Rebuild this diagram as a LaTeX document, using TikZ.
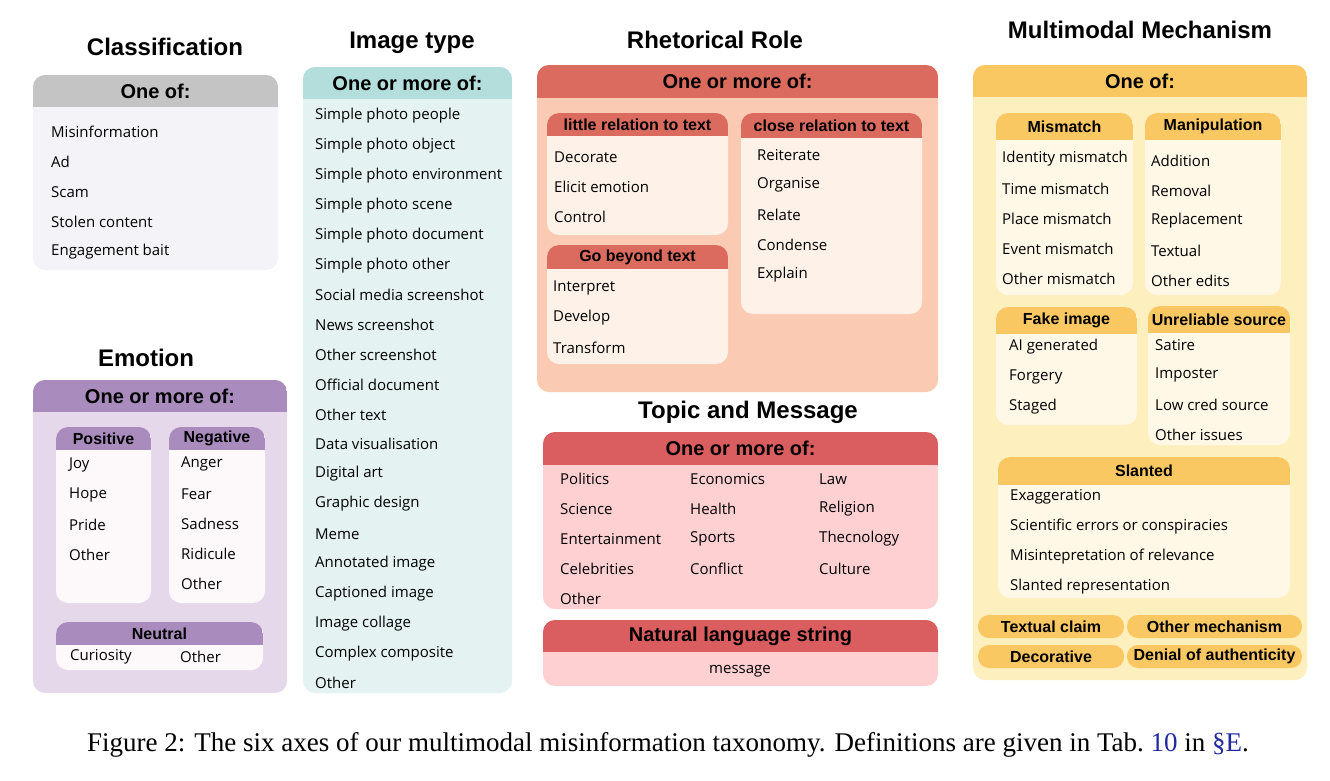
\documentclass[tikz,border=0pt]{standalone}
\usepackage{fontspec}
\setmainfont{Open Sans}
\newfontfamily\headfont{Liberation Sans}
\newfontfamily\capfont{Liberation Serif}
\definecolor{grayhdr}{HTML}{C4C4C4}
\definecolor{graybody}{HTML}{F4F3F8}
\definecolor{tealhdr}{HTML}{B3DEDB}
\definecolor{tealbody}{HTML}{E4F3F2}
\definecolor{rhethdr}{HTML}{DA6B5E}
\definecolor{rhetbody}{HTML}{FBCAB2}
\definecolor{rhetsub}{HTML}{FEF2E8}
\definecolor{topichdr}{HTML}{DA5D5F}
\definecolor{topicbody}{HTML}{FFD0D2}
\definecolor{emohdr}{HTML}{A98BBE}
\definecolor{emobody}{HTML}{E6D8EB}
\definecolor{emosub}{HTML}{FDF8FA}
\definecolor{mechhdr}{HTML}{FAC863}
\definecolor{mechbody}{HTML}{FEEFBF}
\definecolor{mechsub}{HTML}{FFF8E6}
\definecolor{linkblue}{HTML}{1F2AA0}
\tikzset{
  title/.style={font=\headfont\bfseries\fontsize{24}{28}\selectfont},
  hdr/.style={font=\headfont\bfseries\fontsize{20}{24}\selectfont, inner sep=0},
  subhdr/.style={font=\headfont\bfseries\fontsize{16}{19}\selectfont, inner sep=0},
  item/.style={font=\fontsize{15}{18}\selectfont, anchor=west, inner sep=0}
}
% box with a coloured header: name, x1, y1, x2, header bottom, y2, header colour, body colour, title
\newcommand{\catbox}[9]{%
  \fill[#8, rounded corners=12] (#2,#3) rectangle (#4,#6);
  \begin{scope}
    \clip[rounded corners=12] (#2,#3) rectangle (#4,#6);
    \fill[#7] (#2,#3) rectangle (#4,#5);
  \end{scope}
  \node (#1) at ({(#2+#4)/2},{(#3+#5)/2}) {#9};}
% pill label: name, x1, y1, x2, y2, text
\newcommand{\pill}[6]{%
  \fill[mechhdr, rounded corners=11] (#2,#3) rectangle (#4,#5);
  \node[subhdr] (#1) at ({(#2+#4)/2},{(#3+#5)/2}) {#6};}
\begin{document}
\begin{tikzpicture}[x=1pt, y=-1pt]
  \useasboundingbox (0,0) rectangle (1330,780);
  \fill[white] (0,0) rectangle (1330,780);

  % Titles
  \node[title] (t-class) at (165,47) {Classification};
  \node[title] (t-img) at (412,43) {Image type};
  \node[title] (t-rhet) at (715,40) {Rhetorical Role};
  \node[title] (t-mech) at (1140,30) {Multimodal Mechanism};
  \node[title] (t-emo) at (146,358) {Emotion};
  \node[title] (t-topic) at (748,412) {Topic and Message};

  % Classification
  \catbox{class}{33}{75}{278}{107}{270}{grayhdr}{graybody}{\tikz[baseline]\node[hdr]{One of:};}
  \foreach \t [count=\i from 0] in {Misinformation, Ad, Scam, Stolen content, Engagement bait}
    \node[item] (class-\i) at (51,132+30*\i) {\t};

  % Image type
  \catbox{img}{303}{67}{512}{99}{693}{tealhdr}{tealbody}{\tikz[baseline]\node[hdr]{One or more of:};}
  \foreach \t [count=\i from 0] in {Simple photo people, Simple photo object, Simple photo environment,
      Simple photo scene, Simple photo document, Simple photo other, Social media screenshot,
      News screenshot, Other screenshot, Official document, Other text, Data visualisation,
      Digital art, Graphic design, Meme, Annotated image, Captioned image, Image collage,
      Complex composite, Other}
    \node[item] (img-\i) at (315,116+29.84*\i) {\t};

  % Rhetorical role
  \catbox{rhet}{537}{65}{938}{98}{392}{rhethdr}{rhetbody}{\tikz[baseline]\node[hdr]{One or more of:};}
  \catbox{little}{547}{113}{728}{136}{235}{rhethdr}{rhetsub}{\tikz[baseline]\node[subhdr]{little relation to text};}
  \foreach \t [count=\i from 0] in {Decorate, Elicit emotion, Control}
    \node[item] (little-\i) at (554,157+30*\i) {\t};
  \catbox{beyond}{547}{245}{728}{269}{364}{rhethdr}{rhetsub}{\tikz[baseline]\node[subhdr]{Go beyond text};}
  \foreach \t [count=\i from 0] in {Interpret, Develop, Transform}
    \node[item] (beyond-\i) at (553,288+30*\i) {\t};
  \catbox{close}{741}{113}{922}{138}{314}{rhethdr}{rhetsub}{\tikz[baseline]\node[subhdr]{close relation to text};}
  \foreach \t [count=\i from 0] in {Reiterate, Organise, Relate, Condense, Explain}
    \node[item] (close-\i) at (757,155+30*\i) {\t};

  % Topic and message
  \catbox{topic}{543}{432}{938}{465}{609}{topichdr}{topicbody}{\tikz[baseline]\node[hdr]{One or more of:};}
  \foreach \t [count=\i from 0] in {Politics, Science, Entertainment, Celebrities, Other}
    \node[item] (topicA-\i) at (560,479+30*\i) {\t};
  \foreach \t [count=\i from 0] in {Economics, Health, Sports, Conflict}
    \node[item] (topicB-\i) at (690,479+30*\i) {\t};
  \foreach \t [count=\i from 0] in {Law, Religion, Thecnology, Culture}
    \node[item] (topicC-\i) at (819,479+30*\i) {\t};
  \catbox{nls}{543}{620}{938}{652}{686}{topichdr}{topicbody}{\tikz[baseline]\node[hdr]{Natural language string};}
  \node[item, anchor=center] (msg) at (740,671) {message};

  % Emotion
  \catbox{emo}{33}{380}{287}{412}{693}{emohdr}{emobody}{\tikz[baseline]\node[hdr]{One or more of:};}
  \catbox{pos}{56}{427}{151}{450}{603}{emohdr}{emosub}{\tikz[baseline]\node[subhdr]{Positive};}
  \foreach \t [count=\i from 0] in {Joy, Hope, Pride, Other}
    \node[item] (pos-\i) at (69,465+30*\i) {\t};
  \catbox{neg}{169}{427}{265}{450}{603}{emohdr}{emosub}{\tikz[baseline]\node[subhdr]{Negative};}
  \foreach \t [count=\i from 0] in {Anger, Fear, Sadness, Ridicule, Other}
    \node[item] (neg-\i) at (181,464+30*\i) {\t};
  \catbox{neu}{56}{622}{263}{645}{670}{emohdr}{emosub}{\tikz[baseline]\node[subhdr]{Neutral};}
  \node[item] (neu-0) at (70,657) {Curiosity};
  \node[item] (neu-1) at (180,657) {Other};

  % Multimodal mechanism
  \catbox{mech}{973}{65}{1307}{97}{680}{mechhdr}{mechbody}{\tikz[baseline]\node[hdr]{One of:};}
  \catbox{mis}{996}{113}{1133}{140}{295}{mechhdr}{mechsub}{\tikz[baseline]\node[subhdr]{Mismatch};}
  \foreach \t [count=\i from 0] in {Identity mismatch, Time mismatch, Place mismatch, Event mismatch, Other mismatch}
    \node[item] (mis-\i) at (1002,159+30*\i) {\t};
  \catbox{manip}{1145}{113}{1281}{140}{295}{mechhdr}{mechsub}{\tikz[baseline]\node[subhdr]{Manipulation};}
  \foreach \t [count=\i from 0] in {Addition, Removal, Replacement, Textual, Other edits}
    \node[item] (manip-\i) at (1151,161+30*\i) {\t};
  \catbox{fake}{996}{307}{1137}{334}{425}{mechhdr}{mechsub}{\tikz[baseline]\node[subhdr]{Fake image};}
  \foreach \t [count=\i from 0] in {AI generated, Forgery, Staged}
    \node[item] (fake-\i) at (1009,347+30*\i) {\t};
  \catbox{unrel}{1148}{306}{1290}{333}{445}{mechhdr}{mechsub}{\tikz[baseline]\node[subhdr]{Unreliable source};}
  \foreach \t [count=\i from 0] in {Satire, Imposter, Low cred source, Other issues}
    \node[item] (unrel-\i) at (1155,345+30*\i) {\t};
  \catbox{slant}{998}{457}{1290}{485}{598}{mechhdr}{mechsub}{\tikz[baseline]\node[subhdr]{Slanted};}
  \foreach \t [count=\i from 0] in {Exaggeration, Scientific errors or conspiracies, Misintepretation of relevance, Slanted representation}
    \node[item] (slant-\i) at (1010,497+30*\i) {\t};
  \pill{claim}{978}{615}{1124}{638}{Textual claim}
  \pill{othermech}{1127}{615}{1302}{638}{Other mechanism}
  \pill{deco}{978}{645}{1124}{668}{Decorative}
  \pill{denial}{1127}{645}{1302}{668}{Denial of authenticity}

  % Caption
  \node[font=\capfont\fontsize{27}{32}\selectfont, inner sep=0] (caption) at (668,745)
    {Figure 2: The six axes of our multimodal misinformation taxonomy. Definitions are given in Tab.~\textcolor{linkblue}{10} in \textcolor{linkblue}{§E}.};
\end{tikzpicture}
\end{document}
